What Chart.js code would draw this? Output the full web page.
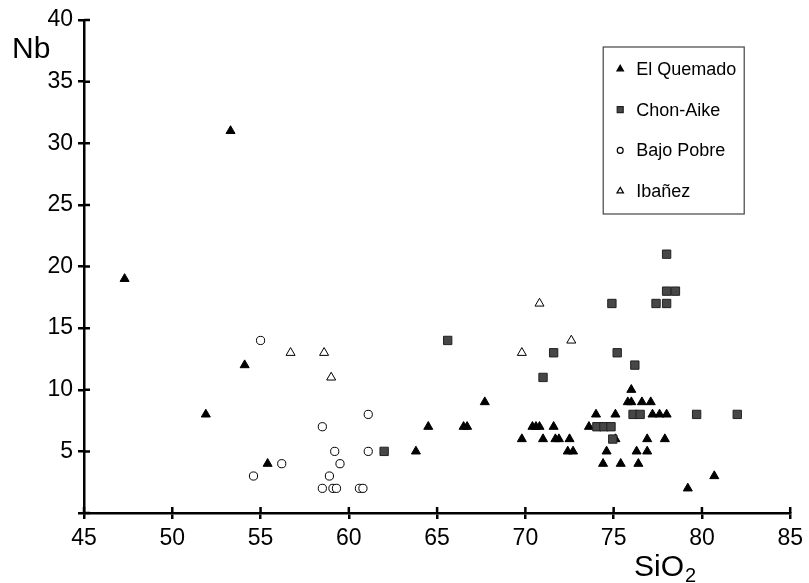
<!DOCTYPE html>
<html>
<head>
<meta charset="utf-8">
<script src="https://cdn.jsdelivr.net/npm/chart.js@4.4.1/dist/chart.umd.min.js"></script>
<style>
  body { margin: 0; background: #fff; }
  #wrap { width: 809px; height: 583px; }
</style>
</head>
<body>
<div id="wrap"><canvas id="nbChart" width="809" height="583"></canvas></div>
<script>
// series names, in legend order
const seriesNames = ['El Quemado', 'Chon-Aike', 'Bajo Pobre', 'Ibañez'];

// SiO2 (wt%) and Nb (ppm) for each group
const quemadoSi = [47.3, 53.3, 51.9, 54.1, 55.4, 63.8, 64.5, 66.5, 66.7, 67.7, 69.8, 70.4, 70.6, 70.8, 71.0,
  71.6, 71.7, 71.9, 72.4, 72.5, 72.7, 73.6, 74.0, 74.4, 74.6, 75.1, 75.1, 75.4, 75.8, 76.0, 76.0, 76.3,
  76.4, 76.6, 76.9, 76.9, 77.1, 77.2, 77.6, 77.9, 78.0, 79.2, 80.7];
const quemadoNb = [19, 31, 8, 12, 4, 5, 7, 7, 7, 9, 6, 7, 7, 7, 6,
  7, 6, 6, 5, 6, 5, 7, 8, 4, 5, 8, 6, 4, 9, 9, 10, 5,
  4, 9, 5, 6, 9, 8, 8, 6, 8, 2, 3];

const chonAikeSi = [62.0, 65.6, 71.0, 71.6, 74.9, 75.2, 76.2, 77.4, 78.0, 78.0, 78.0, 78.5, 76.1, 76.5,
  74.05, 74.45, 74.85, 74.95, 79.7, 82.0];
const chonAikeNb = [5, 14, 11, 13, 17, 13, 12, 17, 17, 21, 18, 18, 8, 8,
  7, 7, 7, 6, 8, 8];

const bajoPobreSi = [55.0, 54.6, 56.2, 58.5, 61.1, 59.2, 61.1, 59.5, 58.9, 58.5, 59.1, 59.3, 60.6, 60.8];
const bajoPobreNb = [14, 3, 4, 7, 8, 5, 5, 4, 3, 2, 2, 2, 2, 2];

const ibanezSi = [56.7, 58.6, 59.0, 69.8, 70.8, 72.6];
const ibanezNb = [13, 13, 11, 13, 17, 14];

// axis ranges and ticks
const xMin = 45, xMax = 85, xStep = 5;
const yMin = 0, yMax = 40, yStep = 5;

const FONT = '"Liberation Sans", Arial, Helvetica, sans-serif';

function pts(xs, ys) {
  return xs.map((x, i) => ({ x: x, y: ys[i] }));
}

// marker look per series
const styles = [
  { pointStyle: 'triangle', radius: 5.2, backgroundColor: '#000', borderColor: '#000', borderWidth: 1 },
  { pointStyle: 'rect', radius: 5.9, backgroundColor: '#474747', borderColor: '#222', borderWidth: 1 },
  { pointStyle: 'circle', radius: 4.1, backgroundColor: '#fff', borderColor: '#000', borderWidth: 1 },
  { pointStyle: 'triangle', radius: 5.2, backgroundColor: '#fff', borderColor: '#000', borderWidth: 1 }
];

const seriesData = [
  pts(quemadoSi, quemadoNb),
  pts(chonAikeSi, chonAikeNb),
  pts(bajoPobreSi, bajoPobreNb),
  pts(ibanezSi, ibanezNb)
];
const drawOrder = [1, 0, 2, 3];

const datasets = seriesNames.map((name, i) => ({
  label: name,
  data: seriesData[i],
  order: drawOrder[i],
  pointStyle: styles[i].pointStyle,
  pointRadius: styles[i].radius,
  pointHoverRadius: styles[i].radius,
  pointBackgroundColor: styles[i].backgroundColor,
  pointBorderColor: styles[i].borderColor,
  pointBorderWidth: styles[i].borderWidth,
  showLine: false
}));

// tick marks cross the axis, so draw the inner half too
const innerTicks = {
  id: 'innerTicks',
  afterDraw(chart) {
    const ctx = chart.ctx, a = chart.chartArea;
    const xs = chart.scales.x, ys = chart.scales.y;
    ctx.save();
    ctx.strokeStyle = '#000';
    ctx.lineWidth = 2.5;
    ctx.beginPath();
    ys.ticks.forEach(t => {
      const y = ys.getPixelForValue(t.value);
      ctx.moveTo(a.left, y);
      ctx.lineTo(a.left + 6, y);
    });
    xs.ticks.forEach(t => {
      const x = xs.getPixelForValue(t.value);
      ctx.moveTo(x, a.bottom);
      ctx.lineTo(x, a.bottom - 6);
    });
    ctx.stroke();
    ctx.restore();
  }
};

// axis names: Nb at top left, SiO2 with subscript under the x axis
const axisNames = {
  id: 'axisNames',
  afterDraw(chart) {
    const ctx = chart.ctx;
    ctx.save();
    ctx.fillStyle = '#000';
    ctx.textBaseline = 'alphabetic';
    ctx.textAlign = 'left';
    ctx.font = '30px ' + FONT;
    ctx.fillText('Nb', 12, 58);
    ctx.fillText('SiO', 634, 576);
    const w = ctx.measureText('SiO').width;
    ctx.font = '20px ' + FONT;
    ctx.fillText('2', 634 + w + 1, 582);
    ctx.restore();
  }
};

// boxed legend inside the plot
const boxLegend = {
  id: 'boxLegend',
  afterDraw(chart) {
    const ctx = chart.ctx, a = chart.chartArea;
    const left = a.right - 187, top = a.top + 27;
    const w = 141, h = 167;
    ctx.save();
    ctx.strokeStyle = '#444';
    ctx.lineWidth = 1.2;
    ctx.strokeRect(left, top, w, h);
    ctx.font = '18px ' + FONT;
    ctx.textBaseline = 'middle';
    ctx.textAlign = 'left';
    seriesNames.forEach((name, i) => {
      const cy = top + 22 + i * 40.7;
      const s = styles[i];
      ctx.fillStyle = s.backgroundColor;
      ctx.strokeStyle = s.borderColor;
      Chart.helpers.drawPoint(ctx, {
        pointStyle: s.pointStyle, radius: s.radius * 0.72, borderWidth: 1, rotation: 0
      }, left + 17, cy);
      ctx.fillStyle = '#000';
      ctx.fillText(name, left + 33, cy + 1);
    });
    ctx.restore();
  }
};

const ctx = document.getElementById('nbChart').getContext('2d');
const chart = new Chart(ctx, {
  type: 'scatter',
  data: { datasets: datasets },
  options: {
    responsive: false,
    animation: false,
    layout: { padding: { left: 0, top: 20, right: 16, bottom: 0 } },
    plugins: {
      legend: { display: false },
      tooltip: { enabled: false }
    },
    scales: {
      x: {
        type: 'linear',
        min: xMin, max: xMax,
        afterFit(scale) { scale.height = 70; },
        border: { display: true, color: '#000', width: 2.5 },
        grid: { drawOnChartArea: false, drawTicks: true, tickLength: 6, color: '#000', lineWidth: 2.5 },
        ticks: {
          stepSize: xStep,
          padding: 6,
          color: '#000',
          font: { family: FONT, size: 23 },
          maxRotation: 0
        }
      },
      y: {
        type: 'linear',
        min: yMin, max: yMax,
        afterFit(scale) { scale.width = 84; },
        border: { display: true, color: '#000', width: 2.5 },
        grid: { drawOnChartArea: false, drawTicks: true, tickLength: 6, color: '#000', lineWidth: 2.5 },
        ticks: {
          stepSize: yStep,
          padding: 5,
          color: '#000',
          font: { family: FONT, size: 23 },
          callback: v => (v === 0 ? '' : v)
        }
      }
    }
  },
  plugins: [innerTicks, axisNames, boxLegend]
});
</script>
</body>
</html>
